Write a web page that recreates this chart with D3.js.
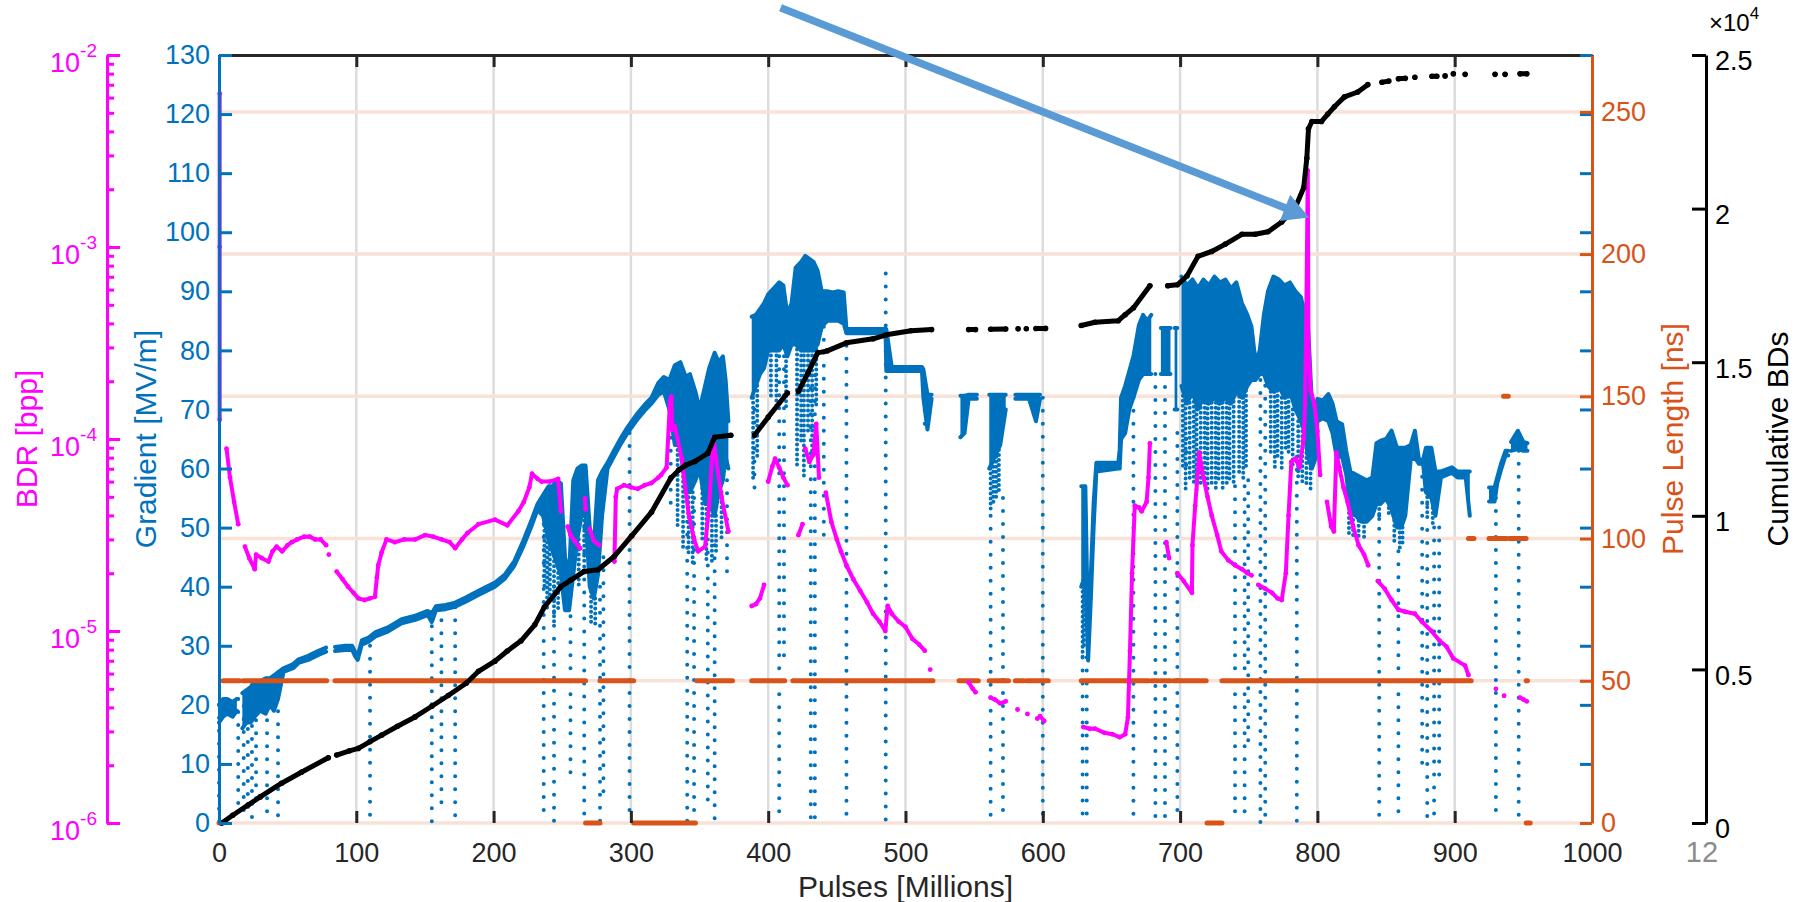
<!DOCTYPE html>
<html>
<head>
<meta charset="utf-8">
<script src="https://cdn.jsdelivr.net/npm/d3@7"></script>
<style>
  body { margin: 0; background: #fff; }
  svg { display: block; }
  text { font-family: "Liberation Sans", Arial, Helvetica, sans-serif; }
</style>
</head>
<body>
<svg id="chart" width="1806" height="902"></svg>
<script>
// ---------------- data ----------------
// Accelerating gradient envelope: [pulses (M), lower edge, upper edge] in MV/m; null = no data
const gradEnv = [
  [0,17,20],[3,18,21],[6,18.5,21],[10,18,20.5],[13,19,21],[15,null,null],
  [17,16,22],[20,17,22.5],[23,17,23],[26,18,24],[30,19,24],[34,18.5,24.5],[37,20,24.5],[40,19,25],[43,21,25.5],
  [47,25.6,26.2],[54,26.2,26.9],[58,27.1,27.7],[65,27.6,28.3],[72,28.4,29.1],[78,29,29.7],[79.5,null,null],
  [84.5,29.1,29.8],[92,29.3,30],[97,29.3,30],[99,28.3,29],[101,27.6,28.3],[104,30.2,30.9],[109,30.7,31.4],
  [114,31.6,32.3],[123,32.4,33.1],[133,33.8,34.5],[143,34.4,35.1],[152,35.2,35.9],[155,34,35.5],[158,36,36.7],
  [165,36.2,36.9],[172,36.6,37.3],[180,37.5,38.2],[189,38.6,39.3],[201,40,40.7],[208,41.3,42],[215,43.5,44.3],
  [222,47,48],[228,50.5,51.5],[232,53,54],[236,52,55.5],[240,48,57],[243,46,57],[246,44,58],[249,42,57.5],
  [252,36,45],[255,36,42],[258,42,58],[261,48,60],[264,52,60.5],[267,52,60.5],[270,40,50],[273,38,47],
  [276,42,58],[279,52,59.5],[283,60,61],[288,62.2,63.2],[293,64.3,65.3],[297,65.8,66.8],[300,66.8,67.8],
  [305,68.4,69.4],[310,69.8,70.8],[315,71,72],[320,72.5,74.5],[324,73,75.5],[328,70,75],[332,64,77.5],
  [336,64,78],[340,56,75.5],[343,56,76],[347,58,73],[350,60,70],[354,54,74],[357,54,77],[361,52,79.6],
  [364,56,78],[367,58,79],[369,62,75],[371,60,68],[372,null,null],
  [388,72,85.7],[391,74,86],[394,76,87],[397,77,88],[400,80,89.5],[404,80,90.5],[408,80,91.5],[411,81,91],
  [414,79,86],[417,81,88],[420,81,94],[424,80,95],[427,80,96],[430,80,95.5],[433,80,95],[436,81,93.5],
  [439,84,90],[443,85,90],[447,85,89.8],[451,85,90],[455,84.5,89.8],[457,82.9,83.6],[470,82.9,83.6],
  [485.5,82.9,83.6],[486,76.5,83.6],[490,76.5,77.2],[512,76.5,77.2],[513,72,76.8],[516,66.6,72.5],
  [519,71.8,72.5],[520,null,null],
  [540,65.3,72.3],[543,66,72.3],[546,71.8,72.5],[552,71.8,72.5],[553,null,null],
  [561,60,72.5],[565,62,72.5],[569,64,72.5],[573,70,72.5],[574,null,null],
  [580,71.8,72.5],[590,71.8,72.5],[595,68,72.5],[598,71.8,72.5],[599,null,null],
  [628,40,57],[631,42,57],[633,27.5,31],[635,38,42],[637,50,54],[639,59.5,61],[655,60,61],[656,60,63.2],
  [657,65,72],[660,66,74],[663,70,76.5],[666,72,79],[670,75,84.3],[673,76,86],[676,76,85],[679,76,86],[680,null,null],
  [686,76,83.8],[693,76,83.8],[694,null,null],[696,70,83.8],[698,70,83.8],[699,null,null],
  [701,74,92.5],[705,71,91],[709,73,92],[713,70,90.5],[717,72,92],[721,71,91],[725,72,92.5],[729,71,91.5],
  [733,72,92],[737,71,90.5],[741,73,91.5],[745,72,88],[749,74,86],[752,75,84],[755,75,78],[758,76,80],
  [761,76,86],[764,74,90],[768,73,92.5],[772,74,92],[776,72,91],[780,73,91.5],[784,70,90],[788,68,89],
  [791,66,86],[793,62,85],[796,60,71],[799,62,70],[800,68,71.8],[804,68.5,71.5],[808,68,72.6],[811,66,71],
  [814,62,68],[818,62,67.5],[821,59,63],[824,53,59.5],[828,52,59],[832,51,58.5],[836,51,58],[840,52,58.5],
  [843,54,64.3],[846,54,64.7],[850,55,65],[854,53,66.4],[858,50,63.5],[861,50,63.5],[864,52,63.5],
  [868,61.5,64],[871,61.8,66.4],[874,60.8,61.5],[877,60.8,61.5],[879,56,63.5],[883,55,63.5],[886,52,59.5],
  [890,58.5,59.5],[898,59.3,60.2],[902,58.5,59.5],[908,58.5,59.5],[911,52,59.5],[912,null,null],
  [925,54.4,56.8],[929,54.4,56.8],[931,57.5,58.5],[934,60,61],[937,62.2,63],[939,62.2,63],[940,null,null],
  [941,63,64.5],[946,63.3,66.4],[950,63,64.5],[953,63,64.3]
];

// Dense streaks of low-gradient pulses below the envelope: [pulses (M), from MV/m, down to MV/m]
const gradStreaks = [
  [237,52,40],[239,50,36],[241,48,38],[244,46,34],[247,44,36],[262,48,40],[266,52,44],[271,40,34],[274,38,33],
  [334,64,50],[338,62,46],[342,56,45],[345,56,44],[352,60,48],[355,54,44],[359,52,44],[362,52,46],[366,56,48],
  [389,72,58],[392,74,62],[402,80,72],[406,80,70],[413,79,70],[421,81,60],[424,80,64],[426,80,58],[429,80,66],[432,80,62],[435,81,70],
  [562,60,53],[564,62,54],[566,62,55],[568,64,56],[629,40,28],[630,42,30],
  [702,74,60],[704,71,56],[707,72,58],[710,73,57],[712,70,56],[715,72,57],[718,72,58],[720,71,56],
  [723,72,57],[726,72,56],[728,71,58],[731,72,56],[734,72,57],[736,71,58],[739,73,57],[743,73,59],
  [746,72,58],[748,74,60],[766,73,62],[769,73,60],[771,74,62],[774,72,60],[777,72,63],[779,73,62],
  [782,70,60],[786,68,58],[789,68,57],[792,66,57],[795,60,56],
  [823,55,49],[826,53,48],[830,52,48],[834,51,48],[845,54,51],[852,55,52],[856,52,47],[860,50,46],[862,50,47],[880,56,52],[884,55,50]
];

// Gradient drop-outs after breakdowns: [pulses (M), from MV/m, down to MV/m]
const gradDrops = [
  [0,20,0],[14,21,2],[18,22,0],[21,22.5,1],[24,23,0],[27,24,2],[35,24,0],[43,25.5,0],
  [110,30,0],[155,35.5,0],[162,36.5,2],[172,36.5,0],
  [236.5,55,0],[244,40,0],[256,35,8],[266,50,0],[277.5,40,0],[280,45,5],[299,66,0],[329,74,54],
  [341,51,0],[346,55,0],[356,48,2],[361,47,0],[370,58,42],[390,70,55],[408,79,0],[411.5,79,26.5],
  [431,78,0],[434,78,0],[440.5,84,47],[457,83,0],[485.6,93,0],[514,72,66.6],
  [562,52,0],[571,55,0],[600,72,0],[629,28,0],[632,28,0],[666,72,0],
  [682,76,0],[689,76,0],[698,66,0],[704.5,65,59],[740,57,0],[747,57,0],[749.6,58,13.7],[758.5,75,0],[762,74,0],[785,62,0],
  [845,52,0],[859,46,0],[876.3,60.8,9],[880,54,0],[885,50,0],[888.7,50,6],[930,55,0],[946.6,63,0]
];

// Breakdown rate [bpp]: [pulses (M), BDR]; null splits the trace
const bdrPts = [
  [0.5,6.3e-3],[0.5,1e-3],[0.5,1.26e-4], null,
  [5.5,8.9e-5],[8,6.3e-5],[11,4.7e-5],[14,3.6e-5], null,
  [18.9,2.75e-5],[22,2.4e-5],[26,2.1e-5],[27,2.5e-5],[31,2.4e-5],[36,2.3e-5],[39,2.6e-5],[42,2.75e-5],
  [46,2.6e-5],[50,2.8e-5],[53,2.9e-5],[57,3.0e-5],[62,3.1e-5],[66,3.1e-5],[70,3.0e-5],[74,3.0e-5],[78,2.8e-5], null,
  [80,2.5e-5], null,
  [85.7,2.04e-5],[90,1.86e-5],[94,1.7e-5],[98,1.58e-5],[101.5,1.48e-5],[106,1.45e-5],[110,1.48e-5],[113.6,1.51e-5],
  [115,1.9e-5],[116,2.2e-5],[118.5,2.57e-5],[122,3.0e-5],[128,2.9e-5],[135,3.0e-5],[143,3.0e-5],[150,3.16e-5],
  [156,3.1e-5],[162,3.0e-5],[168,2.9e-5],[172,2.7e-5],[177,3.0e-5],[181,3.24e-5],[189,3.6e-5],[201,3.8e-5],
  [210,3.55e-5],[218,4.2e-5],[222,4.7e-5],[226,5.6e-5],[228,6.6e-5],[232,6.2e-5],[235,6.0e-5],[241,6.0e-5],
  [247,6.2e-5],[249,4.2e-5], null,
  [254,3.5e-5],[256,3.16e-5],[259,2.95e-5],[263,2.7e-5], null,
  [266.5,4.9e-5],[267,4.3e-5], null,
  [270,3.4e-5],[273,2.95e-5],[277,2.8e-5], null,
  [288,2.3e-5],[289,5.0e-5],[290,5.5e-5],[295,5.75e-5],[300,5.6e-5],[305,5.5e-5],[310,5.75e-5],[315,5.9e-5],
  [320,6.3e-5],[322,6.5e-5],[326,7.1e-5],[328.5,1.58e-4],[329.5,1.66e-4],[330,1.12e-4],[332,1.17e-4],
  [337,7.9e-5],[342,4.1e-5],[346,3.0e-5],[349,2.6e-5],[354,2.75e-5],[357,4.5e-5],[360,1.02e-4],[362,7.9e-5],
  [366,5.0e-5],[371,3.3e-5], null,
  [388,1.35e-5],[391,1.38e-5],[394,1.48e-5],[397,1.74e-5], null,
  [400,6.0e-5],[403,7.2e-5],[405,7.9e-5],[408,7.1e-5],[411,6.3e-5],[414,5.75e-5], null,
  [422,3.16e-5],[425,3.6e-5], null,
  [427,8.9e-5],[430,7.6e-5],[433,8.3e-5],[435,1.2e-4],[437,6.3e-5], null,
  [442,5.25e-5],[446,3.7e-5],[450,3.0e-5],[453,2.6e-5],[457,2.2e-5],[462,1.86e-5],[467,1.62e-5],[472,1.41e-5],
  [476.4,1.23e-5],[481,1.12e-5],[485.3,1.0e-5],[487,1.35e-5],[490,1.23e-5],[495,1.12e-5],[500,1.05e-5],
  [505,9.1e-6],[510,8.5e-6],[514,7.9e-6], null,
  [518,6.3e-6], null,
  [546,5.4e-6],[549,5.0e-6],[551,4.8e-6], null,
  [562,4.5e-6],[565,4.4e-6],[569,4.2e-6],[573,4.3e-6], null,
  [581.6,3.9e-6], null, [588.8,3.7e-6], null,
  [596,3.5e-6],[598,3.6e-6],[601,3.4e-6], null,
  [629.5,3.16e-6],[634,3.1e-6],[638,3.1e-6],[645,2.95e-6],[650.5,2.9e-6],[656,2.8e-6],[660,2.9e-6],
  [662,3.55e-6],[663.5,7.9e-6],[665,2.0e-5],[667,4.5e-5],[670,4.4e-5],[672,4.2e-5],[675.6,4.7e-5],
  [677,6.3e-5],[678,9.5e-5], null,
  [690,2.9e-5],[692,2.4e-5], null,
  [698,2.0e-5],[702.6,1.82e-5],[708.6,1.58e-5],[709,2.8e-5],[711,4.5e-5],[714,8.5e-5],[717,6.3e-5],
  [720,5.0e-5],[723,4.0e-5],[727,3.16e-5],[730,2.6e-5],[735,2.34e-5],[740,2.2e-5],[745,2.1e-5],[749,2.0e-5],
  [752,1.95e-5], null,
  [757,1.74e-5],[762,1.66e-5],[767,1.58e-5],[771,1.48e-5],[774,1.45e-5],[777,2.0e-5],[779,4.0e-5],
  [781,7.6e-5],[784,7.9e-5],[787,7.1e-5],[790,1.0e-4],[791,1.51e-4],[792,5.0e-4],[793,2.5e-3],
  [793.5,3.16e-4],[795,1.8e-4],[798,1.5e-4],[800,1.1e-4],[802,6.5e-5], null,
  [807,4.7e-5],[810,3.5e-5],[812,3.3e-5],[813.8,8.5e-5],[816,7.1e-5],[819,5.6e-5],[822,4.7e-5],
  [826,3.5e-5],[830,2.8e-5],[834,2.5e-5],[837,2.2e-5], null,
  [844,1.82e-5],[849,1.66e-5],[854,1.45e-5],[859,1.29e-5],[864,1.26e-5],[871,1.23e-5],[876,1.12e-5],
  [883,1.0e-5],[889,8.9e-6],[894,8.3e-6],[899,7.2e-6],[907.6,6.6e-6],[910,5.9e-6], null,
  [930,5.0e-6], null, [936,4.6e-6], null,
  [947.6,4.5e-6],[950,4.4e-6],[952.5,4.3e-6]
];

// Cumulative breakdown count: [pulses (M), BDs]; null splits the trace
const cumPts = [
  [2,0],[10,250],[21.4,593],[30,850],[45.6,1295],[60,1650],[79.6,2126], null,
  [85.7,2212],[95,2350],[101.5,2428],[110,2650],[118.5,2860],[130,3150],[142.8,3453],[155,3800],[167,4150],
  [180,4550],[189,4939],[201,5269],[210,5600],[220,5930],[230,6450],[237,7032],[249,7694],[256,7900],
  [266,8190],[276,8244],[288,8685],[300.6,9346],[315,10118],[329,11220],[335,11495],[340,11650],
  [346.6,11770],[356,12034],[361,12557],[372.8,12622], null,
  [390,12622],[400,13211],[414,13996], null,
  [422,14050],[429,14650],[436,15304],[443,15370],[457,15630],[476.4,15761],[486,15892],[504,16023],[519,16062], null,
  [546,16062],[551,16062], null,
  [562,16075],[573,16080], null,
  [582,16088], null, [588,16090], null, [595,16095],[602,16100], null,
  [628,16193],[638,16300],[655,16350],[660,16546],[666,16768],[678,17487], null,
  [691,17487],[698,17520],[705,17806],[713,18445],[723,18605],[733,18845],[745,19164],[754.7,19164],
  [764,19244],[774,19563],[784,20042],[790,20681],[792.3,21640],[793.5,22598],[796,22837],[803,22837],
  [807.6,23077],[812.4,23316],[819.7,23636],[829.4,23795],[836.7,24035], null,
  [847,24115],[852,24150], null, [859,24226],[864,24240], null, [871,24274], null, [883.4,24306],[887,24310], null,
  [893,24320], null, [899,24386], null, [907.6,24370], null,
  [929.4,24370], null, [936.7,24370], null, [947.6,24386],[952.5,24386]
];

// RF pulse length: [from (M), to (M), ns]
const pulseSegs = [
  [0,3,0],[3,15,50],[17.5,78.4,50],[84.5,267,50],[267,277.5,0],[277.5,302,50],[302,347,0],
  [348,374,50],[388,412,50],[418,520,50],[539,553,50],[561,575,50],[580,586,50],[588,604,50],
  [628,677,50],[679,684,50],[686,693,50],[695,719,50],[719.6,730.5,0],[730.5,912,50],
  [910,914,100],[925,938,100],[935.6,939,150],[940,952,100],[952,953,50],[952,955,0]
];

// Axis ticks
const xTicks = [0,100,200,300,400,500,600,700,800,900,1000];
const gradTicks = [0,10,20,30,40,50,60,70,80,90,100,110,120,130];
const pulseTicks = [0,50,100,150,200,250];
const cumTicks = [0,5000,10000,15000,20000,25000];
const bdrMajor = [1e-6,1e-5,1e-4,1e-3,1e-2];

// Annotation arrow, in [pulses (M), gradient MV/m] coordinates
const arrowFrom = [409, 138];
const arrowTo = [794, 102.5];

// ---------------- drawing ----------------
const BLUE = '#0072BD', ORANGE = '#D95319', MAGENTA = '#FF00FF', BLACK = '#000000', AXIS = '#262626';
const P = {l: 219, r: 1592, t: 55, b: 823};
const svg = d3.select('#chart');

const x  = d3.scaleLinear().domain([0, 1000]).range([P.l, P.r]);
const yG = d3.scaleLinear().domain([0, 130]).range([P.b, P.t]);
const yP = d3.scaleLinear().domain([0, 270]).range([P.b, P.t]);
const yC = d3.scaleLinear().domain([0, 25000]).range([P.b, P.t]);
const yB = d3.scaleLog().domain([1e-6, 1e-2]).range([P.b, P.t]);

// grid
svg.append('g').selectAll('line').data(xTicks.slice(1, -1)).join('line')
  .attr('x1', d => x(d)).attr('x2', d => x(d)).attr('y1', P.t).attr('y2', P.b)
  .attr('stroke', '#dcdcdc').attr('stroke-width', 2.5);
svg.append('g').selectAll('line').data(pulseTicks).join('line')
  .attr('x1', P.l).attr('x2', P.r).attr('y1', d => yP(d)).attr('y2', d => yP(d))
  .attr('stroke', '#f8e1d6').attr('stroke-width', 3.5);

// gradient
const gBlue = svg.append('g');
const def = d => d[1] !== null;
gBlue.append('path').datum(gradEnv)
  .attr('d', d3.area().defined(def).x(d => x(d[0])).y0(d => yG(d[1])).y1(d => yG(d[2])))
  .attr('fill', BLUE);
[1, 2].forEach(k => {
  gBlue.append('path').datum(gradEnv)
    .attr('d', d3.line().defined(def).x(d => x(d[0])).y(d => yG(d[k])))
    .attr('fill', 'none').attr('stroke', BLUE).attr('stroke-width', 4)
    .attr('stroke-linejoin', 'round').attr('stroke-linecap', 'round');
});
gBlue.append('g').selectAll('line').data(gradStreaks).join('line')
  .attr('x1', d => x(d[0])).attr('x2', d => x(d[0]))
  .attr('y1', d => yG(d[1])).attr('y2', d => yG(d[2]))
  .attr('stroke', BLUE).attr('stroke-width', 4).attr('stroke-linecap', 'round')
  .attr('stroke-dasharray', '0 5');
gBlue.append('g').selectAll('line').data(gradDrops).join('line')
  .attr('x1', d => x(d[0])).attr('x2', d => x(d[0]))
  .attr('y1', d => yG(d[1])).attr('y2', d => yG(d[2]))
  .attr('stroke', BLUE).attr('stroke-width', 4).attr('stroke-linecap', 'round')
  .attr('stroke-dasharray', '0 13');

// pulse length
svg.append('g').selectAll('line').data(pulseSegs).join('line')
  .attr('x1', d => x(d[0])).attr('x2', d => x(d[1]))
  .attr('y1', d => yP(d[2])).attr('y2', d => yP(d[2]))
  .attr('stroke', ORANGE).attr('stroke-width', 5).attr('stroke-linecap', 'round');

// breakdown rate
const gBdr = svg.append('g');
gBdr.append('path').datum(bdrPts)
  .attr('d', d3.line().defined(d => d !== null).x(d => x(d[0])).y(d => yB(d[1])))
  .attr('fill', 'none').attr('stroke', MAGENTA).attr('stroke-width', 4)
  .attr('stroke-linejoin', 'round').attr('stroke-linecap', 'round');
gBdr.selectAll('circle').data(bdrPts.filter(d => d !== null)).join('circle')
  .attr('cx', d => x(d[0])).attr('cy', d => yB(d[1])).attr('r', 2.4).attr('fill', MAGENTA);

// cumulative breakdowns
const gCum = svg.append('g');
gCum.append('path').datum(cumPts)
  .attr('d', d3.line().defined(d => d !== null).x(d => x(d[0])).y(d => yC(d[1])))
  .attr('fill', 'none').attr('stroke', BLACK).attr('stroke-width', 5)
  .attr('stroke-linejoin', 'round').attr('stroke-linecap', 'round');
gCum.selectAll('circle').data(cumPts.filter(d => d !== null)).join('circle')
  .attr('cx', d => x(d[0])).attr('cy', d => yC(d[1])).attr('r', 2.8).attr('fill', BLACK);

// ---------------- axes ----------------
function styleAxis(g, color, size) {
  g.attr('font-size', size || 27).attr('font-family', '"Liberation Sans", Arial, sans-serif');
  g.select('.domain').attr('stroke', color).attr('stroke-width', 3);
  g.selectAll('.tick line').attr('stroke', color).attr('stroke-width', 3);
  g.selectAll('.tick text').attr('fill', color);
}

// x axis (bottom ticks, labels) and top edge
const axB = svg.append('g').attr('transform', `translate(0,${P.b})`)
  .call(d3.axisBottom(x).tickValues(xTicks).tickSize(-12).tickSizeOuter(0).tickPadding(20)
    .tickFormat(d3.format('d')));
styleAxis(axB, AXIS);
axB.select('.domain').remove();
const axT = svg.append('g').attr('transform', `translate(0,${P.t})`)
  .call(d3.axisTop(x).tickValues(xTicks).tickSize(-12).tickSizeOuter(0).tickFormat(''));
styleAxis(axT, AXIS);

// right-side mirror ticks of the gradient axis
const axGR = svg.append('g').attr('transform', `translate(${P.r},0)`)
  .call(d3.axisLeft(yG).tickValues(gradTicks).tickSize(12).tickSizeOuter(0).tickFormat(''));
styleAxis(axGR, BLUE);
axGR.select('.domain').remove();

// pulse length axis (right)
const axP = svg.append('g').attr('transform', `translate(${P.r},0)`)
  .call(d3.axisRight(yP).tickValues(pulseTicks).tickSize(-12).tickSizeOuter(0).tickPadding(9));
styleAxis(axP, ORANGE);

// gradient axis (left)
const axG = svg.append('g').attr('transform', `translate(${P.l},0)`)
  .call(d3.axisLeft(yG).tickValues(gradTicks).tickSize(-13).tickSizeOuter(0).tickPadding(9));
styleAxis(axG, BLUE);

// BDR axis (far left, log)
const bdrX = 107;
const bdrMinor = [];
bdrMajor.slice(0, -1).forEach(m => { for (let k = 2; k <= 9; k++) bdrMinor.push(m * k); });
const axBm = svg.append('g').attr('transform', `translate(${bdrX},0)`)
  .call(d3.axisLeft(yB).tickValues(bdrMinor).tickSize(-7).tickSizeOuter(0).tickFormat(''));
styleAxis(axBm, MAGENTA);
const axBM = svg.append('g').attr('transform', `translate(${bdrX},0)`)
  .call(d3.axisLeft(yB).tickValues(bdrMajor).tickSize(-13).tickSizeOuter(0).tickPadding(10).tickFormat(''));
styleAxis(axBM, MAGENTA);
axBM.selectAll('.tick text').each(function(d) {
  const t = d3.select(this).attr('text-anchor', 'end').attr('dy', null).attr('y', 16);
  t.append('tspan').text('10');
  t.append('tspan').attr('font-size', 19).attr('dy', -15).text(String(Math.round(Math.log10(d))));
});

// cumulative axis (far right)
const cumX = 1706;
const axC = svg.append('g').attr('transform', `translate(${cumX},0)`)
  .call(d3.axisRight(yC).tickValues(cumTicks).tickSize(-14).tickSizeOuter(0).tickPadding(9)
    .tickFormat(d => d3.format('~g')(d / 1e4)));
styleAxis(axC, BLACK);
axC.selectAll('.tick text').attr('dy', '0.55em');
const mult = svg.append('text').attr('x', cumX + 3).attr('y', 31).attr('font-size', 24).attr('fill', BLACK);
mult.append('tspan').text('\u00d710');
mult.append('tspan').attr('font-size', 17).attr('dy', -12).text('4');

// axis titles
function vLabel(txt, cx, cy, color) {
  svg.append('text').attr('transform', `translate(${cx},${cy}) rotate(-90)`)
    .attr('text-anchor', 'middle').attr('font-size', 30).attr('fill', color).text(txt);
}
vLabel('BDR [bpp]', 37, (P.t + P.b) / 2, MAGENTA);
vLabel('Gradient [MV/m]', 156, (P.t + P.b) / 2, BLUE);
vLabel('Pulse Length [ns]', 1683, (P.t + P.b) / 2, ORANGE);
vLabel('Cumulative BDs', 1788, (P.t + P.b) / 2, BLACK);
svg.append('text').attr('x', (P.l + P.r) / 2).attr('y', 897).attr('text-anchor', 'middle')
  .attr('font-size', 30).attr('fill', AXIS).text('Pulses [Millions]');
svg.append('text').attr('x', 1702).attr('y', 862).attr('text-anchor', 'middle')
  .attr('font-size', 29).attr('fill', '#8c8c8c').text('12');

// annotation arrow
(function() {
  const x0 = x(arrowFrom[0]), y0 = yG(arrowFrom[1]);
  const x1 = x(arrowTo[0]), y1 = yG(arrowTo[1]);
  const dx = x1 - x0, dy = y1 - y0, L = Math.hypot(dx, dy);
  const ux = dx / L, uy = dy / L, nx = -uy, ny = ux;
  const headL = 26, headW = 14, shaftW = 3.8;
  const bx = x1 - ux * headL, by = y1 - uy * headL;
  const pts = [
    [x0 + nx * shaftW, y0 + ny * shaftW], [bx + nx * shaftW, by + ny * shaftW],
    [bx + nx * headW, by + ny * headW], [x1, y1],
    [bx - nx * headW, by - ny * headW], [bx - nx * shaftW, by - ny * shaftW],
    [x0 - nx * shaftW, y0 - ny * shaftW]
  ];
  svg.append('path').attr('d', 'M' + pts.map(p => p.join(',')).join('L') + 'Z')
    .attr('fill', '#5B9BD5');
})();
</script>
</body>
</html>
